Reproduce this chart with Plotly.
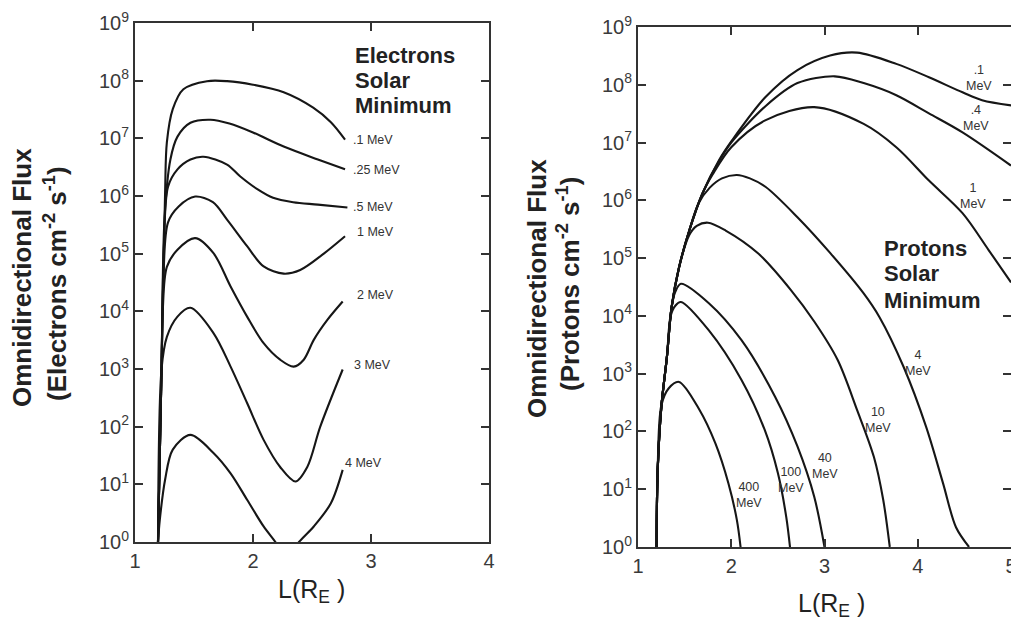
import plotly.graph_objects as go

# Page is 1019x624; the browser puts the figure 8px in from the top-left,
# so the figure is 1011x616 and page pixels are shifted by OFF.
PAGE_W, PAGE_H = 1019, 624
OFF = 8
W, H = PAGE_W - OFF, PAGE_H - OFF

# ---------------- Data ----------------
# Electrons, solar minimum: L (Earth radii) and omnidirectional flux
e_labels = [".1 MeV", ".25 MeV", ".5 MeV", "1 MeV", "2 MeV", "3 MeV", "4 MeV"]
e01_L = [1.195, 1.225, 1.255, 1.27, 1.32, 1.41, 1.61, 1.78, 2.0, 2.26, 2.51, 2.66, 2.78]
e01_F = [1, 1e3, 1.15e6, 8.5e6, 3.2e7, 7.1e7, 9.8e7, 9.8e7, 8.5e7, 6.3e7, 3.4e7, 1.9e7, 9.5e6]
e025_L = [1.195, 1.225, 1.25, 1.30, 1.36, 1.47, 1.64, 1.80, 2.0, 2.26, 2.55, 2.78]
e025_F = [1, 1e3, 4e5, 4.3e6, 1.07e7, 1.86e7, 2.1e7, 1.8e7, 1.26e7, 7.2e6, 4.3e6, 2.9e6]
e05_L = [1.195, 1.225, 1.245, 1.28, 1.36, 1.47, 1.58, 1.78, 1.89, 2.04, 2.17, 2.34, 2.55, 2.80]
e05_F = [1, 1e3, 1.26e5, 1.45e6, 2.9e6, 4.3e6, 4.8e6, 3.5e6, 2.2e6, 1.3e6, 9.3e5, 7.8e5, 7.1e5, 6.3e5]
e1_L = [1.195, 1.225, 1.24, 1.28, 1.37, 1.51, 1.66, 1.78, 1.95, 2.09, 2.26, 2.40, 2.60, 2.78]
e1_F = [1, 1e3, 3.2e4, 3.5e5, 6.6e5, 9.8e5, 7.8e5, 3.9e5, 1.35e5, 6.0e4, 4.5e4, 5.2e4, 1.0e5, 2.0e5]
e2_L = [1.195, 1.225, 1.235, 1.27, 1.36, 1.51, 1.665, 1.81, 1.95, 2.09, 2.23, 2.345, 2.43, 2.515, 2.63, 2.76]
e2_F = [1, 1e3, 1e4, 5.9e4, 1.17e5, 1.86e5, 1.02e5, 2.7e4, 8.1e3, 2.8e3, 1.45e3, 1.1e3, 1.45e3, 3.2e3, 7.1e3, 1.48e4]
e3_L = [1.195, 1.225, 1.27, 1.36, 1.47, 1.665, 1.81, 1.95, 2.09, 2.23, 2.36, 2.46, 2.57, 2.76]
e3_F = [1, 1e3, 3.6e3, 8.1e3, 1.15e4, 4.2e3, 1.1e3, 257, 59, 20, 11.2, 20, 100, 980]
e4_L = [1.195, 1.21, 1.255, 1.32, 1.47, 1.665, 1.81, 1.95, 2.09, 2.19, 2.29, 2.39, 2.515, 2.66, 2.76]
e4_F = [1, 2.4, 12, 40, 72, 35, 15.5, 5.4, 1.86, 1.0, 0.5, 1.0, 1.86, 4.7, 17.8]

# Protons, solar minimum
p_labels = [".1<br>MeV", ".4<br>MeV", "1<br>MeV", "4<br>MeV", "10<br>MeV", "40<br>MeV", "100<br>MeV", "400<br>MeV"]
p01_L = [1.20, 1.21, 1.25, 1.31, 1.36, 1.44, 1.55, 1.69, 1.87, 2.01, 2.37, 2.71, 3.06, 3.35, 3.77, 4.12, 4.48, 4.69, 5.0]
p01_F = [1, 19, 263, 1.95e3, 1.4e4, 6.9e4, 3.0e5, 1.3e6, 5.0e6, 1.1e7, 6.2e7, 1.8e8, 3.2e8, 3.6e8, 2.3e8, 1.35e8, 7.4e7, 5.4e7, 4.4e7]
p04_L = [1.20, 1.21, 1.25, 1.31, 1.36, 1.44, 1.55, 1.69, 1.87, 2.0, 2.37, 2.71, 3.11, 3.42, 3.77, 4.12, 4.48, 5.0]
p04_F = [1, 19, 263, 1.95e3, 1.4e4, 6.9e4, 3.0e5, 1.3e6, 4.8e6, 1.0e7, 4.3e7, 1.07e8, 1.4e8, 1.07e8, 6.6e7, 3.2e7, 1.5e7, 4.0e6]
p1_L = [1.20, 1.21, 1.25, 1.31, 1.36, 1.44, 1.55, 1.69, 1.80, 2.0, 2.37, 2.89, 3.42, 3.77, 4.12, 4.48, 4.76, 5.0]
p1_F = [1, 19, 263, 1.95e3, 1.4e4, 6.9e4, 3.0e5, 1.3e6, 2.8e6, 8.3e6, 2.45e7, 4.1e7, 2.1e7, 8.3e6, 2.2e6, 6.0e5, 1.38e5, 3.8e4]
p4_L = [1.20, 1.21, 1.25, 1.31, 1.36, 1.44, 1.55, 1.65, 1.77, 1.90, 2.06, 2.20, 2.37, 2.71, 3.06, 3.42, 3.59, 3.85, 4.09, 4.27, 4.41, 4.55]
p4_F = [1, 19, 263, 1.95e3, 1.4e4, 6.9e4, 3.0e5, 8.9e5, 1.66e6, 2.4e6, 2.75e6, 2.4e6, 1.7e6, 5.1e5, 1.23e5, 2.45e4, 9.5e3, 1.29e3, 120, 12.9, 2.2, 1]
p10_L = [1.20, 1.21, 1.25, 1.31, 1.36, 1.44, 1.55, 1.63, 1.75, 1.94, 2.29, 2.64, 2.89, 3.14, 3.35, 3.53, 3.63, 3.70]
p10_F = [1, 19, 263, 1.95e3, 1.4e4, 6.9e4, 2.5e5, 3.6e5, 4.1e5, 3.0e5, 1.2e5, 2.8e4, 8.0e3, 1.74e3, 234, 36, 6.5, 1]
p40_L = [1.20, 1.21, 1.25, 1.31, 1.36, 1.40, 1.46, 1.76, 2.11, 2.47, 2.71, 2.89, 3.0]
p40_F = [1, 19, 263, 1.95e3, 1.4e4, 2.6e4, 3.6e4, 1.66e4, 3.8e3, 400, 55, 7.4, 1]
p100_L = [1.20, 1.21, 1.25, 1.31, 1.35, 1.40, 1.46, 1.76, 2.11, 2.36, 2.50, 2.59, 2.63]
p100_F = [1, 19, 263, 1.95e3, 1.0e4, 1.5e4, 1.74e4, 5.6e3, 780, 105, 19, 3.3, 1]
p400_L = [1.20, 1.21, 1.25, 1.33, 1.44, 1.66, 1.83, 1.97, 2.06, 2.10]
p400_F = [1, 19, 280, 560, 720, 235, 62, 12.6, 2.95, 1]

y_tickvals = [1, 10, 1e2, 1e3, 1e4, 1e5, 1e6, 1e7, 1e8, 1e9]
y_ticktext = ["10<sup>%d</sup>" % i for i in range(10)]
xL_ticks = [1, 2, 3, 4]
xR_ticks = [1, 2, 3, 4, 5]

# ---------------- Figure ----------------
def px(x):
    return (x - OFF) / W

def py(y):
    return 1 - (y - OFF) / H

LINE = dict(color="#161616", width=2.1, shape="spline", smoothing=0.9)
fig = go.Figure()

e_series = [(e01_L, e01_F), (e025_L, e025_F), (e05_L, e05_F), (e1_L, e1_F),
            (e2_L, e2_F), (e3_L, e3_F), (e4_L, e4_F)]
for (L, F), name in zip(e_series, e_labels):
    fig.add_trace(go.Scatter(x=L, y=F, mode="lines", line=LINE, name=name,
                             xaxis="x", yaxis="y", showlegend=False))

p_series = [(p01_L, p01_F), (p04_L, p04_F), (p1_L, p1_F), (p4_L, p4_F),
            (p10_L, p10_F), (p40_L, p40_F), (p100_L, p100_F), (p400_L, p400_F)]
for (L, F), name in zip(p_series, p_labels):
    fig.add_trace(go.Scatter(x=L, y=F, mode="lines", line=LINE, name=name.replace("<br>", " "),
                             xaxis="x2", yaxis="y2", showlegend=False))

FONT = "Liberation Sans, Arial, Helvetica, sans-serif"
tickfont = dict(family=FONT, size=20, color="#3a3a3a")
axis_common = dict(showline=True, linecolor="#333", linewidth=2, mirror="ticks",
                   ticks="inside", ticklen=8, tickwidth=1.6, tickcolor="#333",
                   showgrid=False, zeroline=False, tickfont=tickfont, automargin=False)

fig.update_layout(
    width=W, height=H,
    margin=dict(l=0, r=0, t=0, b=0, pad=0),
    paper_bgcolor="white", plot_bgcolor="white",
    xaxis=dict(domain=[px(135), px(489)], range=[1, 4], tickvals=xL_ticks,
               anchor="y", **axis_common),
    yaxis=dict(domain=[py(542), py(23)], type="log", range=[0, 9],
               tickvals=y_tickvals, ticktext=y_ticktext, anchor="x", **axis_common),
    xaxis2=dict(domain=[px(638), px(1011)], range=[1, 5], tickvals=xR_ticks,
                anchor="y2", **axis_common),
    yaxis2=dict(domain=[py(547), py(27)], type="log", range=[0, 9],
                tickvals=y_tickvals, ticktext=y_ticktext, anchor="x2", **axis_common),
)

ann = []
def add(text, x, y, size, bold=False, xanchor="center", yanchor="middle", angle=0, color="#222"):
    ann.append(dict(text=("<b>%s</b>" % text) if bold else text, x=px(x), y=py(y),
                    xref="paper", yref="paper", showarrow=False, xanchor=xanchor,
                    yanchor=yanchor, textangle=angle,
                    font=dict(family=FONT, size=size, color=color)))

# Left-panel curve labels
left_pos = [(351, 140), (351, 170), (351, 207), (355, 232), (355, 295), (352, 365), (343, 463)]
for t, (x, y) in zip(e_labels, left_pos):
    add(t, x, y, 12.5, xanchor="left", color="#333")

# Right-panel curve labels
right_pos = [(979, 78), (976, 118), (973, 196), (918, 363), (878, 420), (825, 466), (791, 480), (749, 495)]
for t, (x, y) in zip(p_labels, right_pos):
    add(t, x, y, 12.5, color="#333")

# Panel titles
for t, y in zip(["Electrons", "Solar", "Minimum"], [55, 80, 106]):
    add(t, 353, y, 22, bold=True, xanchor="left")
for t, y in zip(["Protons", "Solar", "Minimum"], [248, 273, 300]):
    add(t, 882, y, 22, bold=True, xanchor="left")

# Axis titles
add("Omnidirectional Flux", 22, 278, 26, bold=True, angle=-90)
add("(Electrons cm<sup>-2</sup> s<sup>-1</sup>)", 55, 284, 26, bold=True, angle=-90)
add("Omnidirectional Flux", 537, 289, 26, bold=True, angle=-90)
add("(Protons cm<sup>-2</sup> s<sup>-1</sup>)", 568, 284, 26, bold=True, angle=-90)
add("L(R<sub>E</sub> )", 311, 591, 25)
add("L(R<sub>E</sub> )", 831, 605, 25)

fig.update_layout(annotations=ann)
fig.write_html("out.html")
